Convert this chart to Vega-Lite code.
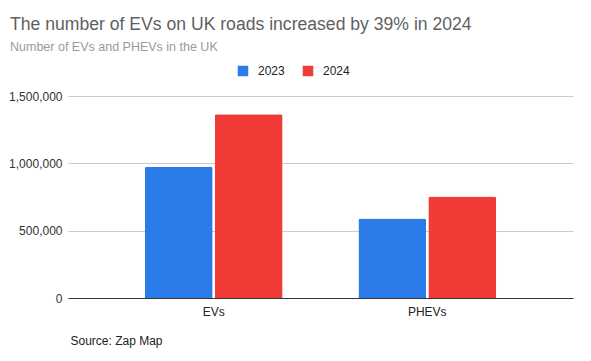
{
  "$schema": "https://vega.github.io/schema/vega-lite/v6.json",
  "width": 505,
  "height": 202,
  "autosize": {"type": "none"},
  "padding": {"left": 68, "top": 96, "right": 18, "bottom": 63},
  "background": "white",
  "config": {
    "font": "Liberation Sans",
    "view": {"stroke": null}
  },
  "title": {
    "text": "The number of EVs on UK roads increased by 39% in 2024",
    "subtitle": "Number of EVs and PHEVs in the UK",
    "anchor": "start",
    "frame": "group",
    "dx": -58,
    "fontSize": 17.6,
    "fontWeight": "normal",
    "color": "#5f5f5f",
    "subtitleFontSize": 12.5,
    "subtitleColor": "#9a9a9a",
    "subtitlePadding": 7,
    "offset": 12
  },
  "data": {
    "values": [
      {"type": "EVs", "year": "2023", "count": 975000},
      {"type": "EVs", "year": "2024", "count": 1364000},
      {"type": "PHEVs", "year": "2023", "count": 590000},
      {"type": "PHEVs", "year": "2024", "count": 754000}
    ]
  },
  "mark": {"type": "bar", "cornerRadiusTopLeft": 2, "cornerRadiusTopRight": 2},
  "encoding": {
    "x": {
      "field": "type",
      "type": "nominal",
      "scale": {"paddingInner": 0.355, "paddingOuter": 0.36},
      "axis": {
        "title": "Source: Zap Map",
        "titleX": 2,
        "titleY": 42,
        "titleAlign": "left",
        "titleBaseline": "middle",
        "titleFontWeight": "normal",
        "titleFontSize": 12,
        "titleColor": "#222222",
        "labelAngle": 0,
        "labelFontSize": 12,
        "labelColor": "#222222",
        "labelPadding": 8,
        "ticks": false,
        "domainColor": "#333333",
        "grid": false
      }
    },
    "xOffset": {"field": "year", "type": "nominal", "scale": {"paddingInner": 0.03}},
    "y": {
      "field": "count",
      "type": "quantitative",
      "scale": {"domain": [0, 1500000]},
      "axis": {
        "title": null,
        "values": [0, 500000, 1000000, 1500000],
        "format": ",d",
        "labelFontSize": 12,
        "labelColor": "#333333",
        "labelPadding": 6,
        "ticks": false,
        "domain": false,
        "gridColor": "#cccccc"
      }
    },
    "color": {
      "field": "year",
      "type": "nominal",
      "scale": {"domain": ["2023", "2024"], "range": ["#2b7be9", "#f03b37"]},
      "legend": {
        "title": null,
        "orient": "none",
        "legendX": 169,
        "legendY": -31,
        "direction": "horizontal",
        "symbolType": "square",
        "symbolSize": 110,
        "symbolStrokeWidth": 0,
        "labelFontSize": 12,
        "labelColor": "#222222",
        "labelOffset": 9,
        "columnPadding": 17
      }
    }
  }
}
